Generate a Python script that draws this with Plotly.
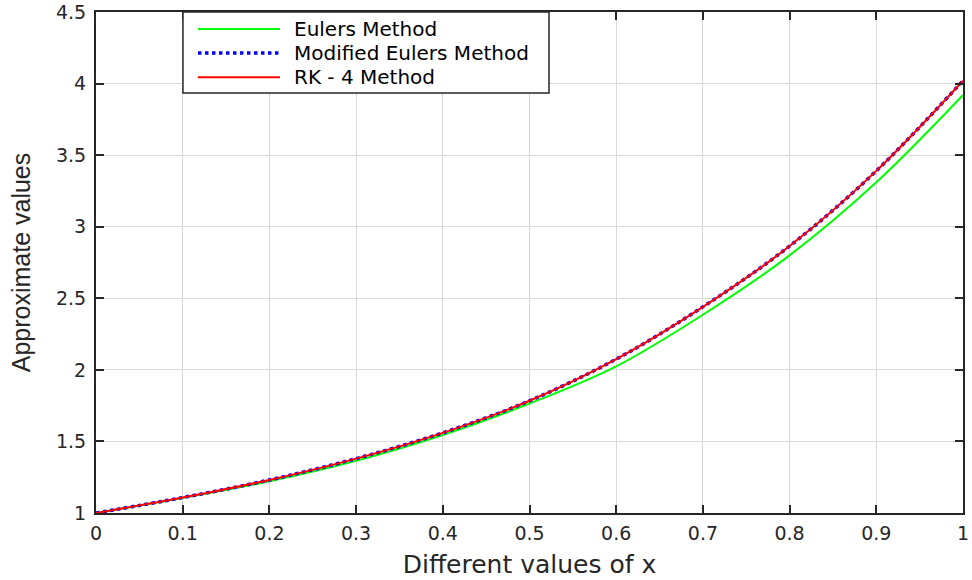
import plotly.graph_objects as go

x_vals = [0.0, 0.1, 0.2, 0.3, 0.4, 0.5, 0.6, 0.7, 0.8, 0.9, 1.0]
euler_vals = [1.0, 1.105, 1.222, 1.365, 1.545, 1.765, 2.025, 2.385, 2.80, 3.31, 3.92]
mod_euler_vals = [1.0, 1.108, 1.231, 1.38, 1.56, 1.784, 2.075, 2.44, 2.865, 3.39, 4.02]
rk4_vals = [1.0, 1.108, 1.231, 1.38, 1.56, 1.784, 2.075, 2.44, 2.865, 3.39, 4.02]

series_names = ["Eulers Method", "Modified Eulers Method", "RK - 4 Method"]
series_colors = ["#00ff00", "#0000ff", "#ff0000"]
series_dash = ["solid", "dot", "solid"]
series_width = [2, 3.5, 2]
x_ticks = [0, 0.1, 0.2, 0.3, 0.4, 0.5, 0.6, 0.7, 0.8, 0.9, 1]
y_ticks = [1, 1.5, 2, 2.5, 3, 3.5, 4, 4.5]

fig = go.Figure()
for name, yv, c, d, w in zip(series_names, [euler_vals, mod_euler_vals, rk4_vals],
                             series_colors, series_dash, series_width):
    fig.add_trace(go.Scatter(x=x_vals, y=yv, mode="lines", name=name, showlegend=False,
                             line=dict(color=c, width=w, dash=d, shape="spline")))

tick_font = dict(family="DejaVu Sans", size=19, color="#262626")
axis_common = dict(
    showline=True, linecolor="#262626", linewidth=2, mirror="ticks",
    ticks="inside", ticklen=8, tickwidth=2, tickcolor="#262626",
    showgrid=True, gridcolor="#d9d9d9", gridwidth=1, zeroline=False,
    tickfont=tick_font, automargin=False,
)

fig.update_xaxes(range=[0, 1], tickvals=x_ticks, ticktext=[str(v) for v in x_ticks],
                 ticklabelstandoff=2,
                 title=dict(text="Different values of x",
                            font=dict(family="DejaVu Sans", size=25, color="#262626"),
                            standoff=13),
                 **axis_common)
fig.update_yaxes(range=[1, 4.5], tickvals=y_ticks, ticktext=[("%g" % v) for v in y_ticks],
                 ticklabelstandoff=4,
                 title=dict(text="Approximate values",
                            font=dict(family="Liberation Sans, Arial, sans-serif", size=25, color="#262626"),
                            standoff=18),
                 **axis_common)

# Legend box drawn in paper coordinates (MATLAB-style legend)
leg_x0, leg_x1, leg_y0, leg_y1 = 0.1003, 0.5225, 0.8383, 1.0
line_x0, line_x1, text_x = 0.1176, 0.2122, 0.2261
row_y = [0.966, 0.918, 0.870]

shapes = [dict(type="rect", xref="paper", yref="paper", x0=leg_x0, x1=leg_x1, y0=leg_y0, y1=leg_y1,
               line=dict(color="#262626", width=1.5), fillcolor="white", layer="above")]
annotations = []
for name, c, d, w, ry in zip(series_names, series_colors, series_dash, series_width, row_y):
    shapes.append(dict(type="line", xref="paper", yref="paper", x0=line_x0, x1=line_x1, y0=ry, y1=ry,
                       line=dict(color=c, width=w, dash=d), layer="above"))
    annotations.append(dict(text=name, xref="paper", yref="paper", x=text_x, y=ry,
                            xanchor="left", yanchor="middle", showarrow=False,
                            font=dict(family="DejaVu Sans", size=20, color="#000000")))

fig.update_layout(
    width=972, height=580,
    margin=dict(l=96, r=9, t=12, b=67),
    paper_bgcolor="white", plot_bgcolor="white",
    showlegend=False,
    shapes=shapes, annotations=annotations,
)

fig.write_html("out.html",
               config={"displayModeBar": False},
               post_script="document.body.style.margin='0';document.body.style.overflow='hidden';")
